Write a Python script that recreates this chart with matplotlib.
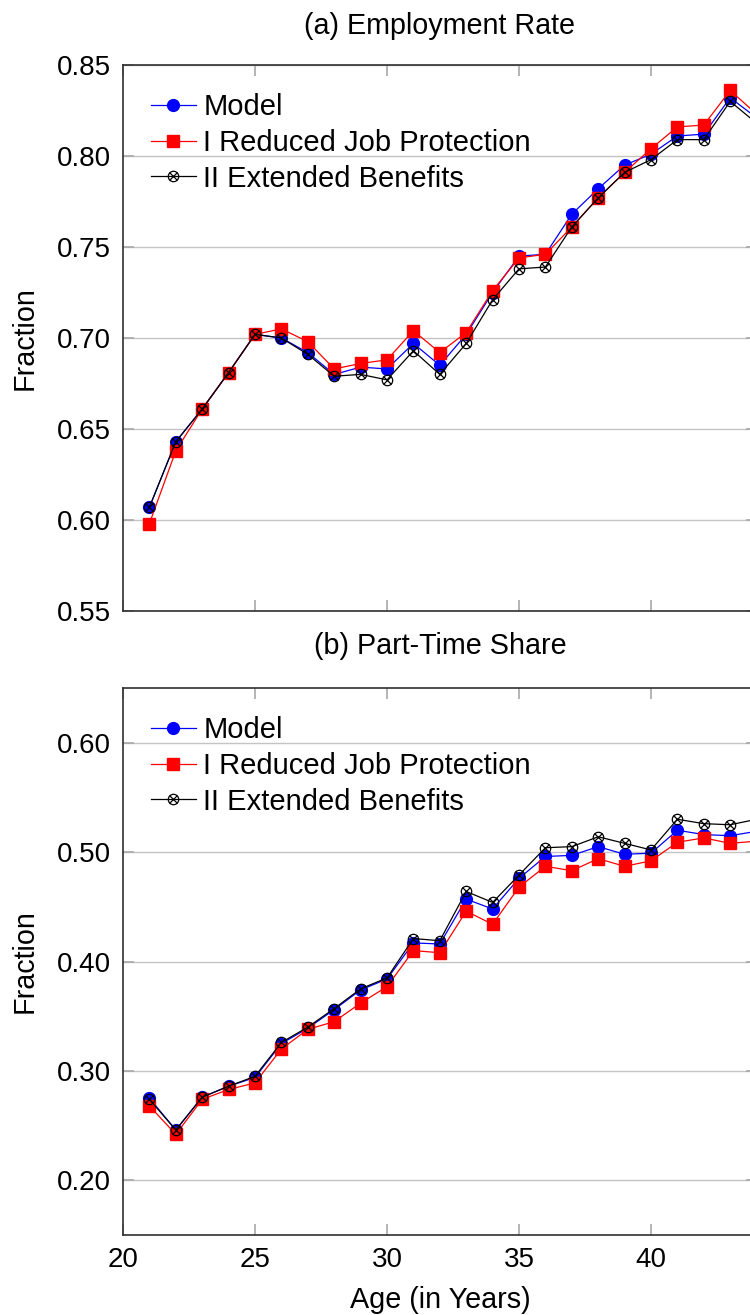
import numpy as np
import matplotlib
matplotlib.use("Agg")
import matplotlib.pyplot as plt
import matplotlib.ticker as mticker

plt.rcParams["font.family"] = ["Liberation Sans", "DejaVu Sans"]

# ── Data ──────────────────────────────────────────────────────────────────────
ages = [21, 22, 23, 24, 25, 26, 27, 28, 29, 30, 31, 32,
        33, 34, 35, 36, 37, 38, 39, 40, 41, 42, 43, 44]

emp_model    = [0.607, 0.643, 0.661, 0.681, 0.702, 0.700, 0.692, 0.680,
                0.684, 0.683, 0.697, 0.685, 0.702, 0.725, 0.745, 0.746,
                0.768, 0.782, 0.795, 0.801, 0.811, 0.812, 0.832, 0.821]
emp_reduced  = [0.598, 0.638, 0.661, 0.681, 0.702, 0.705, 0.698, 0.683,
                0.686, 0.688, 0.704, 0.692, 0.703, 0.726, 0.744, 0.746,
                0.761, 0.777, 0.791, 0.804, 0.816, 0.817, 0.836, 0.823]
emp_extended = [0.607, 0.643, 0.661, 0.681, 0.702, 0.700, 0.691, 0.679,
                0.680, 0.677, 0.693, 0.680, 0.697, 0.721, 0.738, 0.739,
                0.761, 0.777, 0.791, 0.798, 0.809, 0.809, 0.830, 0.818]

pt_model     = [0.275, 0.246, 0.276, 0.286, 0.294, 0.325, 0.339, 0.356,
                0.374, 0.384, 0.417, 0.416, 0.457, 0.448, 0.476, 0.496,
                0.497, 0.505, 0.498, 0.499, 0.520, 0.516, 0.515, 0.519]
pt_reduced   = [0.268, 0.242, 0.274, 0.283, 0.289, 0.320, 0.338, 0.345,
                0.362, 0.377, 0.410, 0.408, 0.446, 0.434, 0.468, 0.487,
                0.483, 0.494, 0.487, 0.492, 0.509, 0.513, 0.508, 0.510]
pt_extended  = [0.274, 0.246, 0.276, 0.286, 0.295, 0.326, 0.340, 0.357,
                0.375, 0.385, 0.421, 0.419, 0.464, 0.454, 0.479, 0.504,
                0.505, 0.514, 0.508, 0.502, 0.530, 0.526, 0.525, 0.530]

labels = ["Model", "I Reduced Job Protection", "II Extended Benefits"]

# ── Layout (pixels on a 750 x 1315 canvas) ────────────────────────────────────
W, H = 750, 1315
FS_TICK = 20
FS_TEXT = 20.7
FS_LEG = 21
X_LEFT, X_RIGHT = 123, 756.6          # right spine falls just past the edge


def add_panel(top_px, bottom_px):
    return fig.add_axes([X_LEFT / W, 1 - bottom_px / H,
                         (X_RIGHT - X_LEFT) / W, (bottom_px - top_px) / H])


def style(ax, ylim, yticks, show_x):
    ax.set_xlim(20, 44)
    ax.set_ylim(*ylim)
    ax.set_xticks([20, 25, 30, 35, 40])
    ax.set_yticks(yticks)
    ax.yaxis.set_major_formatter(mticker.FormatStrFormatter("%.2f"))
    ax.tick_params(direction="in", length=8, width=1.2, color="#a8a8a8",
                   labelsize=FS_TICK, pad=8.5, top=True, right=True,
                   labelbottom=show_x)
    ax.grid(axis="y", color="#c4c4c4", linewidth=1.0)
    ax.set_axisbelow(True)
    for s in ax.spines.values():
        s.set_color("#303030")
        s.set_linewidth(1.2)


def draw(ax, model, reduced, extended):
    h1, = ax.plot(ages, model, color="blue", lw=0.9, marker="o", ms=8.5,
                  mfc="blue", mec="blue")
    h2, = ax.plot(ages, reduced, color="red", lw=0.9, marker="s", ms=8.5,
                  mfc="red", mec="red")
    h3, = ax.plot(ages, extended, color="black", lw=0.9, marker="o", ms=7.5,
                  mfc="none", mec="black", mew=0.9)
    h4, = ax.plot(ages, extended, ls="none", marker="x", ms=5.2,
                  mec="black", mew=0.9)
    ax.legend([h1, h2, (h3, h4)], labels, loc="upper left",
              bbox_to_anchor=(0.044, 0.948), frameon=False, fontsize=FS_LEG,
              borderpad=0, borderaxespad=0, handlelength=1.55,
              handletextpad=0.25, labelspacing=0.26)


fig = plt.figure(figsize=(W / 100, H / 100), dpi=100)

ax1 = add_panel(65, 611)
style(ax1, (0.55, 0.85), [0.55, 0.60, 0.65, 0.70, 0.75, 0.80, 0.85], False)
draw(ax1, emp_model, emp_reduced, emp_extended)

ax2 = add_panel(688, 1235)
style(ax2, (0.15, 0.65), [0.20, 0.30, 0.40, 0.50, 0.60], True)
draw(ax2, pt_model, pt_reduced, pt_extended)

# Panel titles and axis labels
fig.text(440 / W, 1 - 26 / H, "(a) Employment Rate", fontsize=FS_TEXT,
         ha="center", va="center")
fig.text(440 / W, 1 - 646.5 / H, "(b) Part-Time Share", fontsize=FS_TEXT,
         ha="center", va="center")
fig.text(25 / W, 1 - 338 / H, "Fraction", fontsize=FS_TEXT, rotation=90,
         ha="center", va="center")
fig.text(25 / W, 1 - 961.5 / H, "Fraction", fontsize=FS_TEXT, rotation=90,
         ha="center", va="center")
fig.text(440 / W, 1 - 1300 / H, "Age (in Years)", fontsize=FS_TEXT,
         ha="center", va="center")

fig.savefig("out.png", dpi=100)
